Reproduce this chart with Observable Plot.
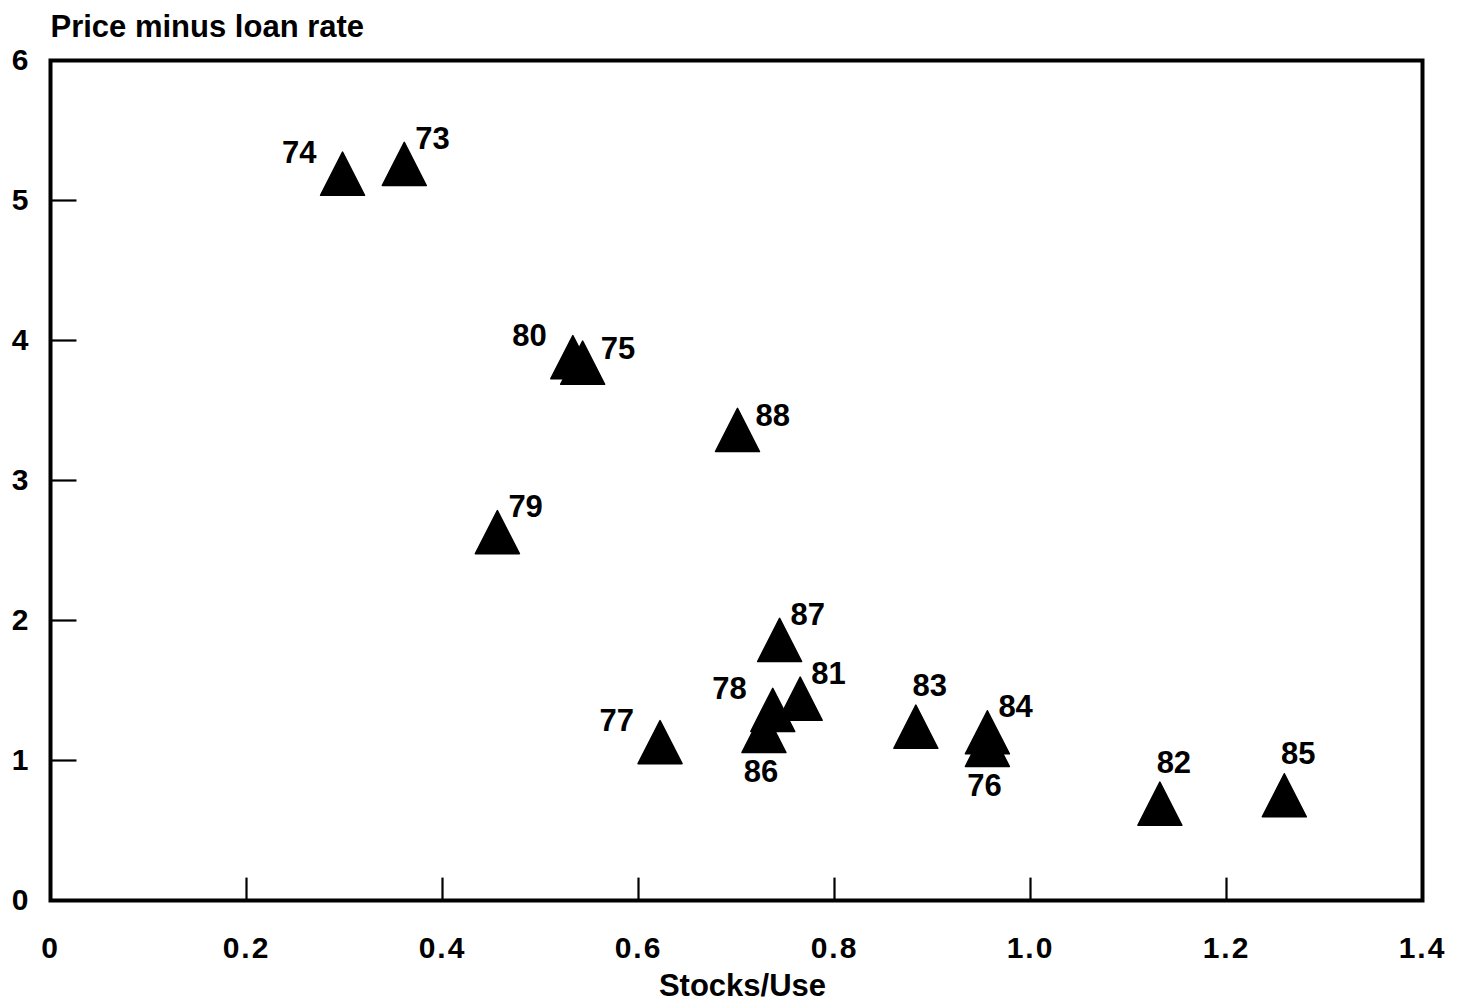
<!DOCTYPE html>
<html>
<head>
<meta charset="utf-8">
<script src="https://cdn.jsdelivr.net/npm/d3@7"></script>
<script src="https://cdn.jsdelivr.net/npm/@observablehq/plot@0.6"></script>
<style>
  body { margin: 0; background: #fff; }
  g[aria-label="x-axis tick label"] text { letter-spacing: 2px; }
</style>
</head>
<body>
<div id="chart"></div>
<script>
// ---- data ----
const years = ["74", "73", "80", "75", "88", "79", "87", "81", "78", "86", "77", "83", "84", "76", "82", "85"];
const stocksUse = [0.298, 0.361, 0.533, 0.543, 0.701, 0.456, 0.744, 0.765, 0.737, 0.728, 0.622, 0.883, 0.956, 0.956, 1.132, 1.259];
const priceMinusLoanRate = [5.14, 5.21, 3.83, 3.79, 3.31, 2.58, 1.81, 1.39, 1.31, 1.16, 1.08, 1.19, 1.15, 1.06, 0.64, 0.70];
const labelPlacement = ["NW", "NE", "NW", "E", "E", "NE", "NE", "NE", "NW", "S", "NW", "N", "NE", "S", "N", "N"];
const xTicks = [0, 0.2, 0.4, 0.6, 0.8, 1.0, 1.2, 1.4];
const xTickLabels = ["0", "0.2", "0.4", "0.6", "0.8", "1.0", "1.2", "1.4"];
const yTicks = [0, 1, 2, 3, 4, 5, 6];
const yTickLabels = ["0", "1", "2", "3", "4", "5", "6"];
const yTitle = "Price minus loan rate";
const xTitle = "Stocks/Use";

// ---- build ----
const data = years.map((year, i) => ({year, x: stocksUse[i], y: priceMinusLoanRate[i], place: labelPlacement[i]}));
const placements = {
  NW: {dx: -26, dy: -28, textAnchor: "end"},
  NE: {dx: 11, dy: -32, textAnchor: "start"},
  E:  {dx: 18, dy: -21, textAnchor: "start"},
  S:  {dx: -3, dy: 34, textAnchor: "middle"},
  N:  {dx: 14, dy: -48, textAnchor: "middle"}
};
const triangle = {
  draw(context, size) {
    const r = Math.sqrt(size / Math.PI);
    const w = 1.25 * r, h = 2.45 * r;
    context.moveTo(0, -2 * h / 3);
    context.lineTo(w, h / 3);
    context.lineTo(-w, h / 3);
    context.closePath();
  }
};

const labelMarks = Object.entries(placements).map(([key, p]) =>
  Plot.text(data.filter(d => d.place === key), {
    x: "x", y: "y", text: "year", dx: p.dx, dy: p.dy, textAnchor: p.textAnchor,
    lineAnchor: "middle", fontSize: 31, fontWeight: "bold", fill: "black"
  })
);

const chart = Plot.plot({
  width: 1463,
  height: 1004,
  marginLeft: 50,
  marginRight: 41,
  marginTop: 60,
  marginBottom: 104,
  x: {domain: [0, 1.4]},
  y: {domain: [0, 6]},
  style: {fontFamily: "'Liberation Sans', Arial, Helvetica, sans-serif", fontWeight: "bold", color: "black", background: "white"},
  marks: [
    Plot.axisY(yTicks, {tickSize: 0, tickPadding: 22, fontSize: 30, fontWeight: "bold", label: null,
      tickFormat: d => yTickLabels[yTicks.indexOf(d)]}),
    Plot.axisX(xTicks, {tickSize: 0, tickPadding: 36, fontSize: 30, fontWeight: "bold", label: null,
      tickFormat: d => xTickLabels[xTicks.indexOf(d)]}),
    Plot.ruleX(xTicks.slice(1, -1), {x: d => d, y1: 0, y2: 0.16, stroke: "black", strokeWidth: 2.2}),
    Plot.ruleY(yTicks.slice(1, -1), {y: d => d, x1: 0, x2: 0.027, stroke: "black", strokeWidth: 2.2}),
    Plot.frame({stroke: "black", strokeWidth: 4}),
    Plot.dot(data, {x: "x", y: "y", symbol: triangle, r: 17.6, fill: "black", stroke: "black", strokeWidth: 1.5, strokeLinejoin: "round"}),
    ...labelMarks,
    Plot.text([yTitle], {frameAnchor: "top-left", dy: -33, textAnchor: "start", lineAnchor: "middle", fontSize: 31, fontWeight: "bold", fill: "black"}),
    Plot.text([xTitle], {frameAnchor: "bottom", dx: 6, dy: 86, lineAnchor: "middle", fontSize: 31, fontWeight: "bold", fill: "black"})
  ]
});
document.getElementById("chart").appendChild(chart);
</script>
</body>
</html>
